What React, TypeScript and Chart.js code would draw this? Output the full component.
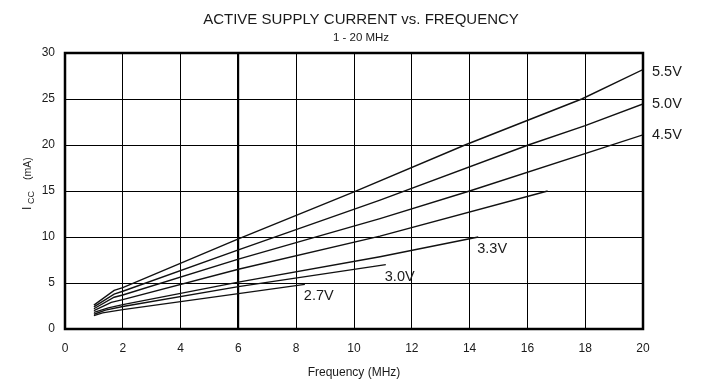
import React, { useEffect, useRef } from "react";
import { Chart, registerables } from "chart.js";

Chart.register(...registerables);

const seriesNames = ["5.5V", "5.0V", "4.5V", "4.0V", "3.3V", "3.0V", "2.7V"];
const labelText = ["5.5V", "5.0V", "4.5V", "", "3.3V", "3.0V", "2.7V"];
const labelAtRight = [true, true, true, false, false, false, false];

const freq55 = [1, 1.7, 2, 6, 10, 13.84, 17.88, 20];
const cur55 = [2.6, 4.2, 4.5, 9.8, 14.9, 20, 25, 28.2];

const freq50 = [1, 1.7, 2, 6, 10.9, 16.03, 18, 20];
const cur50 = [2.4, 3.8, 4.1, 8.6, 14.0, 20, 22.1, 24.46];

const freq45 = [1, 1.7, 2, 6, 10.9, 14.0, 20];
const cur45 = [2.2, 3.45, 3.7, 7.6, 12.0, 15, 21.1];

const freq40 = [1, 1.6, 2, 6, 10.9, 16.7];
const cur40 = [2.0, 2.9, 3.2, 6.5, 10.1, 15.0];

const freq33 = [1, 1.5, 2, 6, 10.9, 14.3];
const cur33 = [1.8, 2.3, 2.65, 5.1, 7.86, 10.0];

const freq30 = [1, 1.4, 2, 6, 11.1];
const cur30 = [1.6, 2.05, 2.45, 4.6, 7.0];

const freq27 = [1, 1.3, 2, 6, 8.3];
const cur27 = [1.45, 1.75, 2.1, 3.85, 4.85];

const allFreq = [freq55, freq50, freq45, freq40, freq33, freq30, freq27];
const allCur = [cur55, cur50, cur45, cur40, cur33, cur30, cur27];

const xTicksMin = 0;
const xTicksMax = 20;
const xTickStep = 2;
const yTicksMin = 0;
const yTicksMax = 30;
const yTickStep = 5;

const titleText = "ACTIVE SUPPLY CURRENT vs. FREQUENCY";
const subtitleText = "1 - 20 MHz";
const xTitle = "Frequency (MHz)";

const FONT = "'Liberation Sans', Arial, Helvetica, sans-serif";
const TEXT = "#1a1a1a";

const decorPlugin = {
  id: "decor",
  afterDraw(chart: any) {
    const ctx = chart.ctx;
    const area = chart.chartArea;
    const xs = chart.scales.x;
    const ys = chart.scales.y;
    ctx.save();
    // frame
    ctx.strokeStyle = "#000";
    ctx.lineWidth = 2.5;
    ctx.strokeRect(area.left, area.top, area.right - area.left, area.bottom - area.top);

    ctx.fillStyle = TEXT;
    // title
    ctx.textAlign = "center";
    ctx.textBaseline = "alphabetic";
    ctx.font = `15px ${FONT}`;
    ctx.fillText(titleText, 361, 24);
    ctx.font = `11.5px ${FONT}`;
    ctx.fillText(subtitleText, 361, 41);

    // x title
    ctx.font = `12px ${FONT}`;
    ctx.fillText(xTitle, (area.left + area.right) / 2, 376);

    // y title with subscript
    ctx.save();
    ctx.translate(31, 210);
    ctx.rotate(-Math.PI / 2);
    ctx.textAlign = "left";
    ctx.font = `12px ${FONT}`;
    ctx.fillText("I", 0, 0);
    ctx.font = `9px ${FONT}`;
    ctx.fillText("CC", 6, 2.5);
    ctx.font = `10.5px ${FONT}`;
    ctx.fillText("(mA)", 30, 0);
    ctx.restore();

    // series labels
    ctx.font = `14.5px ${FONT}`;
    ctx.textAlign = "left";
    ctx.textBaseline = "middle";
    allFreq.forEach((fr, i) => {
      const t = labelText[i];
      if (!t) return;
      const lastF = fr[fr.length - 1];
      const lastC = allCur[i][allCur[i].length - 1];
      const px = xs.getPixelForValue(lastF);
      const py = ys.getPixelForValue(lastC);
      if (labelAtRight[i]) {
        ctx.fillText(t, area.right + 9, py + (i === 0 ? 2 : 0));
      } else {
        ctx.fillText(t, px - 1, py + 12);
      }
    });
    ctx.restore();
  },
};

export default function App() {
  const ref = useRef<HTMLCanvasElement | null>(null);
  useEffect(() => {
    if (!ref.current) return;
    const datasets = seriesNames.map((name, i) => ({
      label: name,
      data: allFreq[i].map((f, j) => ({ x: f, y: allCur[i][j] })),
      borderColor: "#111",
      borderWidth: 1.4,
      pointRadius: 0,
      fill: false,
      tension: 0,
    }));
    const chart = new Chart(ref.current, {
      type: "line",
      data: { datasets },
      plugins: [decorPlugin],
      options: {
        animation: false,
        responsive: false,
        devicePixelRatio: 1,
        layout: { padding: { left: 0, top: 53, right: 58, bottom: 0 } },
        plugins: {
          legend: { display: false },
          tooltip: { enabled: false },
          title: { display: false },
        },
        scales: {
          x: {
            type: "linear",
            min: xTicksMin,
            max: xTicksMax,
            ticks: {
              stepSize: xTickStep,
              padding: 12,
              color: TEXT,
              font: { family: FONT, size: 12 },
              maxRotation: 0,
            },
            grid: {
              color: "#000",
              lineWidth: (c: any) => (c.tick && c.tick.value === 6 ? 2.2 : 1),
              drawTicks: false,
            },
            border: { display: false },
            afterFit: (s: any) => {
              s.height = 58;
            },
          },
          y: {
            type: "linear",
            min: yTicksMin,
            max: yTicksMax,
            ticks: {
              stepSize: yTickStep,
              padding: 10,
              color: TEXT,
              font: { family: FONT, size: 12 },
            },
            grid: { color: "#000", lineWidth: 1, drawTicks: false },
            border: { display: false },
            afterFit: (s: any) => {
              s.width = 65;
            },
          },
        },
      } as any,
    });
    return () => chart.destroy();
  }, []);
  return (
    <div style={{ position: "absolute", left: 0, top: 0, width: 701, height: 387, background: "#fff" }}>
      <canvas ref={ref} width={701} height={387} style={{ display: "block" }} />
    </div>
  );
}
